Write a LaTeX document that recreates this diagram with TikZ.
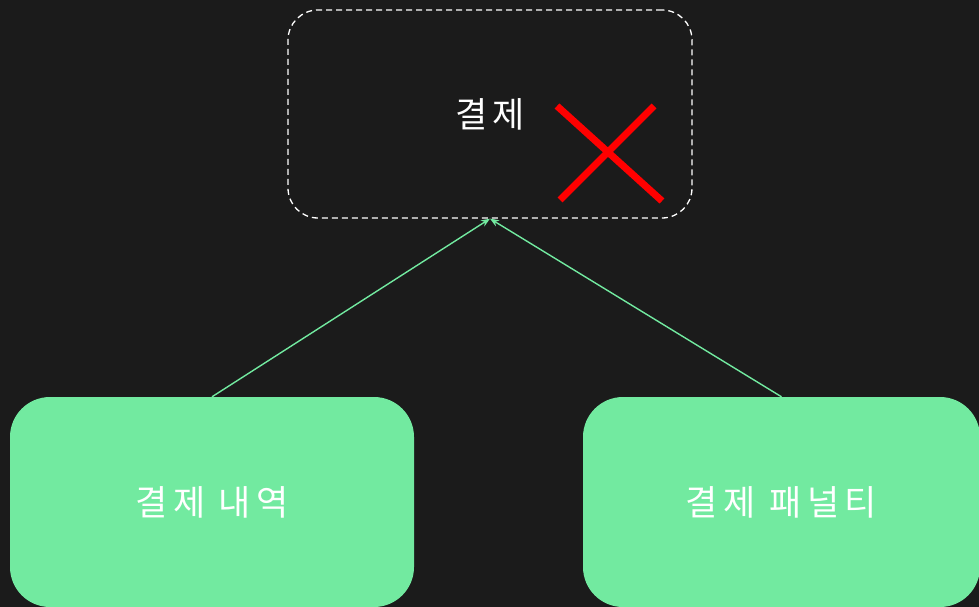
\documentclass[tikz,border=0pt]{standalone}
\usepackage{fontspec}
\usepackage{xcolor}
\usepackage{tikz}
\usetikzlibrary{arrows.meta}
\newfontfamily\krfont{Noto Sans CJK KR}[LetterSpace=16]
\definecolor{bgdark}{HTML}{1B1B1B}
\definecolor{mint}{HTML}{72EAA0}
\definecolor{crossred}{HTML}{FF0000}
\tikzset{
  removedbox/.style={draw=white, dashed, dash pattern=on 6pt off 4pt, line width=1.3pt, rounded corners=30pt,
    minimum width=404pt, minimum height=208pt, text=white, font=\krfont\fontsize{35}{40}\selectfont},
  tablebox/.style={fill=mint, rounded corners=40pt, minimum height=210pt, text=white,
    font=\krfont\fontsize{35}{40}\selectfont},
  refline/.style={draw=mint, line width=1.4pt, -{Stealth[length=9pt,width=7pt,inset=3pt]}}
}
\begin{document}
\begin{tikzpicture}[x=1pt, y=-1pt]
    \fill[bgdark] (0,0) rectangle (979,607);
    \useasboundingbox (0,0) rectangle (979,607);
    \node[removedbox] (pay) at (490,114) {\raisebox{-2pt}{결제}};
    \draw[crossred, line width=7pt] (557,106) -- (662,201);
    \draw[crossred, line width=7pt] (654,106) -- (560,200);
    \node[tablebox, minimum width=404pt] (history) at (212,502) {\raisebox{-2pt}{결제 내역}};
    \node[tablebox, minimum width=397pt] (penalty) at (781.5,502) {\raisebox{-2pt}{결제 패널티}};
    \draw[refline] (history.north) -- (pay.south);
    \draw[refline] (penalty.north) -- (pay.south);
\end{tikzpicture}
\end{document}
